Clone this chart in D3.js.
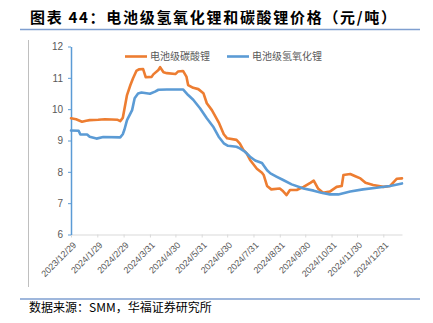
<!DOCTYPE html>
<html>
<head>
<meta charset="utf-8">
<script src="https://cdn.jsdelivr.net/npm/d3@7"></script>
<style>
  body { margin: 0; background: #fff; }
  svg { display: block; }
</style>
</head>
<body>
<svg id="chart" width="433" height="323"></svg>
<script>
// 电池级碳酸锂 daily price, 万元/吨
const carbonateDates = [
  "2023-12-29","2024-01-04","2024-01-11","2024-01-16","2024-01-20","2024-01-30","2024-02-07","2024-02-15",
  "2024-02-22","2024-02-25","2024-02-28","2024-03-04","2024-03-08","2024-03-11","2024-03-15","2024-03-18",
  "2024-03-23","2024-03-26","2024-04-02","2024-04-04","2024-04-10","2024-04-12","2024-04-16","2024-04-20",
  "2024-04-30","2024-05-03","2024-05-09","2024-05-13","2024-05-15","2024-05-21","2024-05-27","2024-06-02",
  "2024-06-06","2024-06-12","2024-06-20","2024-06-26","2024-06-30","2024-07-11","2024-07-15","2024-07-19",
  "2024-07-23","2024-07-27","2024-08-04","2024-08-10","2024-08-12","2024-08-16","2024-08-21","2024-08-31",
  "2024-09-04","2024-09-08","2024-09-12","2024-09-20","2024-09-28","2024-10-06","2024-10-10","2024-10-15",
  "2024-10-21","2024-10-29","2024-11-06","2024-11-12","2024-11-14","2024-11-22","2024-11-28","2024-12-04",
  "2024-12-10","2024-12-19","2024-12-31","2025-01-08","2025-01-16","2025-01-22"
];
const carbonatePrices = [
  9.71, 9.68, 9.60, 9.63, 9.65, 9.66, 9.68, 9.67,
  9.66, 9.62, 9.72, 10.45, 10.77, 10.98, 11.22, 11.27,
  11.28, 11.02, 11.03, 11.11, 11.25, 11.34, 11.18, 11.15,
  11.12, 11.20, 11.22, 11.04, 10.77, 10.68, 10.64, 10.51,
  10.19, 9.97, 9.58, 9.20, 9.07, 9.02, 8.90, 8.70,
  8.59, 8.38, 8.10, 7.97, 7.90, 7.55, 7.44, 7.47,
  7.38, 7.26, 7.42, 7.42, 7.52, 7.65, 7.72, 7.47,
  7.33, 7.37, 7.52, 7.55, 7.90, 7.93, 7.86, 7.79,
  7.65, 7.58, 7.52, 7.55, 7.78, 7.79
];

// 电池级氢氧化锂 daily price, 万元/吨
const hydroxideDates = [
  "2023-12-29","2024-01-07","2024-01-09","2024-01-17","2024-01-20","2024-01-28","2024-02-05","2024-02-25",
  "2024-02-28","2024-03-01","2024-03-04","2024-03-10","2024-03-13","2024-03-17","2024-03-21","2024-03-31",
  "2024-04-06","2024-04-10","2024-04-20","2024-05-09","2024-05-15","2024-05-21","2024-05-29","2024-06-06",
  "2024-06-14","2024-06-20","2024-06-26","2024-07-01","2024-07-11","2024-07-15","2024-07-21","2024-07-27",
  "2024-08-02","2024-08-10","2024-08-16","2024-08-20","2024-08-27","2024-09-04","2024-09-14","2024-09-28",
  "2024-10-10","2024-10-19","2024-10-29","2024-11-08","2024-11-22","2024-12-07","2024-12-23","2025-01-08",
  "2025-01-22"
];
const hydroxidePrices = [
  9.32, 9.31, 9.19, 9.19, 9.12, 9.06, 9.11, 9.10,
  9.20, 9.35, 9.65, 9.97, 10.35, 10.50, 10.53, 10.49,
  10.56, 10.62, 10.63, 10.63, 10.45, 10.30, 10.03, 9.71,
  9.42, 9.12, 8.91, 8.83, 8.80, 8.75, 8.64, 8.48,
  8.36, 8.28, 8.05, 7.95, 7.85, 7.74, 7.60, 7.47,
  7.40, 7.33, 7.28, 7.28, 7.37, 7.44, 7.49, 7.55,
  7.63
];

const seriesNames = ["电池级碳酸锂", "电池级氢氧化锂"];
const seriesColors = ["#ed7d31", "#5b9bd5"];
const yTicks = [6, 7, 8, 9, 10, 11, 12];
const xTickDates = [
  "2023-12-29","2024-01-29","2024-02-29","2024-03-31","2024-04-30","2024-05-31","2024-06-30",
  "2024-07-31","2024-08-31","2024-09-30","2024-10-31","2024-11-30","2024-12-31"
];
const xTickLabels = [
  "2023/12/29","2024/1/29","2024/2/29","2024/3/31","2024/4/30","2024/5/31","2024/6/30",
  "2024/7/31","2024/8/31","2024/9/30","2024/10/31","2024/11/30","2024/12/31"
];
const xDomain = ["2023-12-29", "2025-01-22"];

const parse = d3.utcParse("%Y-%m-%d");
const svg = d3.select("#chart");
const textGrey = "#595959";

// header and footer
svg.append("text")
  .attr("x", 30).attr("y", 22.5)
  .attr("font-family", "'Noto Sans CJK SC', sans-serif")
  .attr("font-weight", "bold").attr("font-size", 15)
  .attr("letter-spacing", 1.7)
  .attr("fill", "#000")
  .text("图表 44：电池级氢氧化锂和碳酸锂价格（元/吨）");
svg.append("line").attr("x1", 20).attr("x2", 420).attr("y1", 29.5).attr("y2", 29.5)
  .attr("stroke", "#7f9fd0").attr("stroke-width", 1.6);
svg.append("line").attr("x1", 20).attr("x2", 420).attr("y1", 299).attr("y2", 299)
  .attr("stroke", "#7f9fd0").attr("stroke-width", 1.6);
svg.append("text")
  .attr("x", 29).attr("y", 311.5)
  .attr("font-family", "'Noto Sans CJK SC', sans-serif")
  .attr("font-size", 12).attr("fill", "#000")
  .text("数据来源：SMM，华福证券研究所");

// chart frame edge
svg.append("line").attr("x1", 28.5).attr("x2", 28.5).attr("y1", 40).attr("y2", 287)
  .attr("stroke", "#bfbfbf").attr("stroke-width", 1);

// scales
const x = d3.scaleUtc().domain(xDomain.map(parse)).range([71, 402]);
const y = d3.scaleLinear().domain([6, 12]).range([234.5, 46.5]);

// x axis
const gx = svg.append("g").attr("transform", `translate(0,${y(6)})`)
  .call(d3.axisBottom(x)
    .tickValues(xTickDates.map(parse))
    .tickFormat((d, i) => xTickLabels[i])
    .tickSize(3).tickSizeOuter(0));
gx.select(".domain").attr("stroke", "#d9d9d9").attr("stroke-width", 1.2);
gx.selectAll(".tick line").attr("stroke", "#d9d9d9");
gx.selectAll(".tick text")
  .attr("font-family", "'Liberation Sans', Arial, sans-serif")
  .attr("font-size", 9).attr("fill", textGrey)
  .attr("text-anchor", "end")
  .attr("x", 0).attr("y", 0).attr("dy", "0.35em")
  .attr("transform", "translate(3,9) rotate(-45)");

// y axis
const gy = svg.append("g").attr("transform", `translate(${x(parse(xDomain[0]))},0)`)
  .call(d3.axisLeft(y).tickValues(yTicks).tickFormat(d3.format("d"))
    .tickSize(3).tickSizeOuter(0).tickPadding(5));
gy.select(".domain").attr("stroke", "#5b9bd5").attr("stroke-width", 1.5);
gy.selectAll(".tick line").attr("stroke", "#5b9bd5");
gy.selectAll(".tick text")
  .attr("font-family", "'Liberation Sans', Arial, sans-serif")
  .attr("font-size", 10).attr("fill", textGrey);

// series lines
const line = d3.line().x(d => x(d[0])).y(d => y(d[1]));
const series = [
  carbonateDates.map((d, i) => [parse(d), carbonatePrices[i]]),
  hydroxideDates.map((d, i) => [parse(d), hydroxidePrices[i]])
];
series.forEach((s, i) => {
  svg.append("path").datum(s)
    .attr("fill", "none")
    .attr("stroke", seriesColors[i])
    .attr("stroke-width", 2.6)
    .attr("stroke-linejoin", "round")
    .attr("stroke-linecap", "round")
    .attr("d", line);
});

// legend
const legendX = [125, 227];
seriesNames.forEach((name, i) => {
  const g = svg.append("g").attr("transform", `translate(${legendX[i]},56.5)`);
  g.append("line").attr("x1", 0).attr("x2", 22).attr("y1", 0).attr("y2", 0)
    .attr("stroke", seriesColors[i]).attr("stroke-width", 2.6);
  g.append("text").attr("x", 25).attr("y", 0).attr("dy", "0.35em")
    .attr("font-family", "'Noto Sans CJK SC', sans-serif")
    .attr("font-size", 10).attr("fill", textGrey)
    .text(name);
});
</script>
</body>
</html>
